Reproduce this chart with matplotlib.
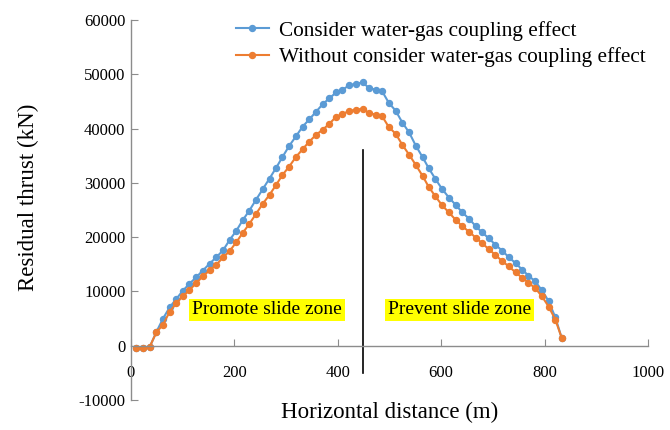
import numpy as np
import matplotlib
matplotlib.use("Agg")
from matplotlib import pyplot as plt

# horizontal distance of each slice (m)
distance = [10, 23, 36, 49, 62, 75, 88, 100, 113, 126, 139, 152, 165, 178, 191,
            204, 216, 229, 242, 255, 268, 281, 293, 306, 319, 332, 345, 358, 371,
            384, 397, 409, 422, 435, 448, 461, 474, 486, 499, 512, 525, 538, 551,
            564, 576, 589, 602, 615, 628, 641, 654, 667, 679, 692, 705, 718, 731,
            744, 757, 769, 782, 795, 808, 821, 833]

# residual thrust with water-gas coupling (kN)
thrust_coupled = [-500, -500, -300, 2500, 5000, 7100, 8650, 10100, 11400, 12600,
                  13850, 15100, 16300, 17550, 19500, 21200, 23100, 24900, 26900,
                  28850, 30800, 32800, 34750, 36800, 38550, 40350, 41700, 43100,
                  44500, 45600, 46650, 47150, 47950, 48250, 48500, 47450, 47150,
                  46850, 44700, 43300, 41100, 39300, 36850, 34750, 32700, 30700,
                  28850, 27300, 25950, 24550, 23400, 22000, 20900, 19800, 18600,
                  17500, 16300, 15200, 14000, 12900, 11850, 10200, 8200, 5200, 1500]

# residual thrust without water-gas coupling (kN)
thrust_plain = [-500, -500, -250, 2450, 3870, 6300, 7850, 9100, 10200, 11550,
                12750, 13900, 14900, 16250, 17450, 19100, 20750, 22450, 24300,
                26150, 27800, 29650, 31450, 33000, 34750, 36200, 37600, 38850,
                39800, 40900, 42200, 42650, 43250, 43450, 43650, 42850, 42550,
                42250, 40250, 39050, 37000, 35200, 33300, 31300, 29250, 27500,
                25850, 24550, 23200, 22000, 21000, 19900, 18900, 17800, 16700,
                15600, 14600, 13500, 12500, 11600, 10600, 9100, 7200, 4800, 1500]

series_names = ["Consider water-gas coupling effect",
                "Without consider water-gas coupling effect"]
zone_names = ["Promote slide zone", "Prevent slide zone"]
zone_x = [263, 635]
divide_x = 449

plt.rcParams["font.family"] = ["Liberation Serif", "DejaVu Serif"]
plt.rcParams["axes.unicode_minus"] = False

fig = plt.figure(figsize=(6.7, 4.3), dpi=100)
ax = fig.add_axes([0.1955, 0.0698, 0.7715, 0.8837])

ax.plot(distance, thrust_coupled, color="#5B9BD5", marker="o", markersize=4.3,
        linewidth=1.5, label=series_names[0])
ax.plot(distance, thrust_plain, color="#ED7D31", marker="o", markersize=4.3,
        linewidth=1.5, label=series_names[1])

# dividing line between the two zones
ax.plot([divide_x, divide_x], [-5000, 36000], color="black", linewidth=1.2)

for name, xz in zip(zone_names, zone_x):
    ax.text(xz, 6600, name, ha="center", va="center", fontsize=14,
            bbox=dict(facecolor="#FFFF00", edgecolor="none", pad=2))

ax.set_xlim(0, 1000)
ax.set_ylim(-10000, 60000)
ax.set_xticks(np.arange(0, 1001, 200))
ax.set_yticks(np.arange(-10000, 60001, 10000))

for side in ["top", "right"]:
    ax.spines[side].set_visible(False)
ax.spines["bottom"].set_position(("data", 0))
for side in ["left", "bottom"]:
    ax.spines[side].set_color("#8C8C8C")
    ax.spines[side].set_linewidth(1.0)

ax.tick_params(axis="both", direction="in", length=5, color="#8C8C8C",
               labelsize=12)
ax.tick_params(axis="x", pad=14)
ax.tick_params(axis="y", pad=4)

ax.set_xlabel("Horizontal distance (m)", fontsize=16.5)
ax.set_ylabel("Residual thrust (kN)", fontsize=16.5)
ax.xaxis.set_label_coords(0.5, -0.004)
ax.yaxis.set_label_coords(-0.178, 0.534)

ax.legend(loc="upper left", bbox_to_anchor=(236 / 670, 1 - 21 / 430),
          bbox_transform=fig.transFigure, frameon=False, fontsize=15.3,
          handlelength=1.55, handletextpad=0.47, labelspacing=0.3,
          borderpad=0, borderaxespad=0, numpoints=1)

fig.savefig("out.png", dpi=100)
